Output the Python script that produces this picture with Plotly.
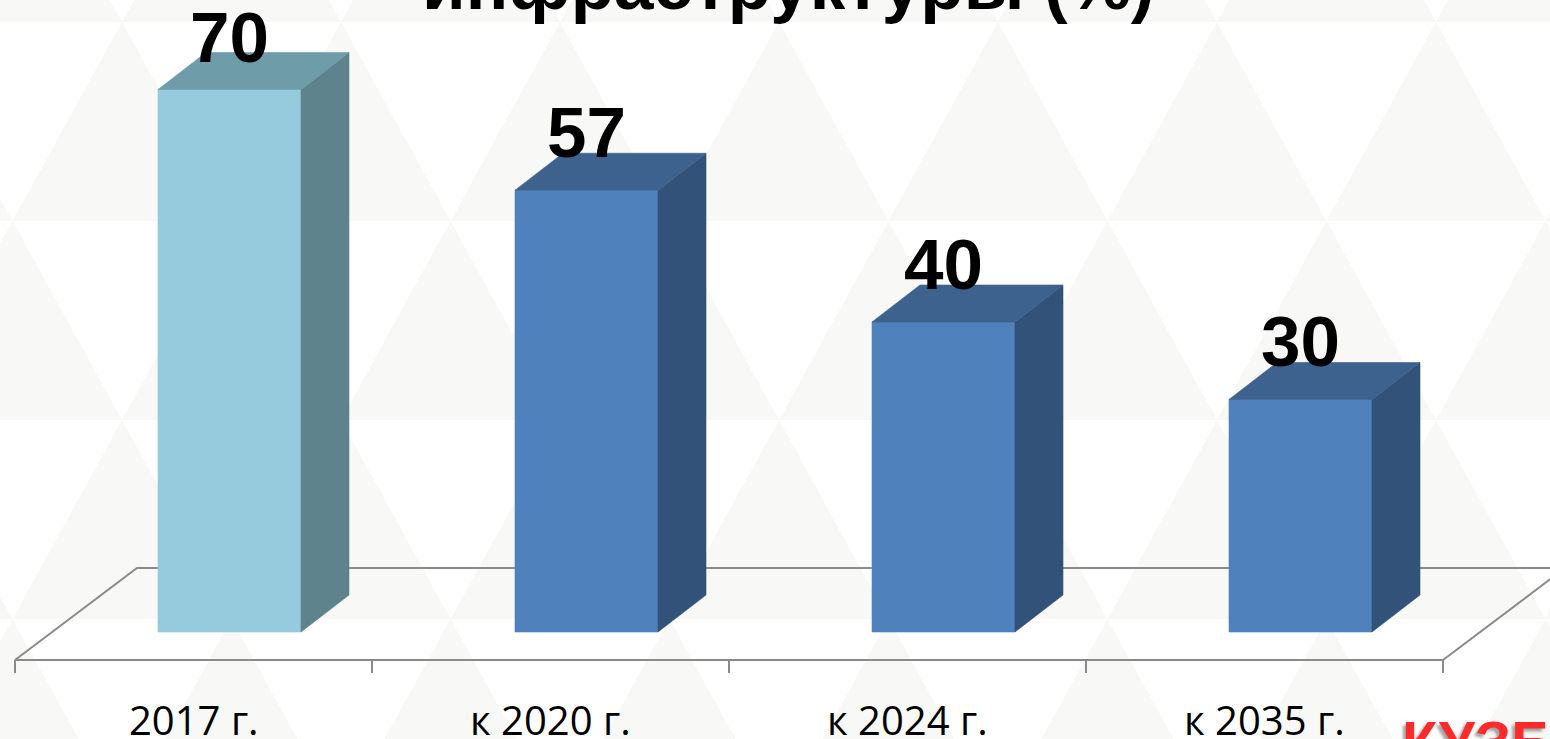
import plotly.graph_objects as go

# ---- data -------------------------------------------------------------
categories = ["2017 г.", "к 2020 г.", "к 2024 г.", "к 2035 г."]
values = [70, 57, 40, 30]
front_colors = ["#95CBDD", "#4F81BD", "#4F81BD", "#4F81BD"]
side_colors = ["#5E838C", "#33527A", "#33527A", "#33527A"]
top_colors = ["#6F9CA9", "#3D628D", "#3D628D", "#3D628D"]
title_text = "инфраструктуры (%)"
brand_text = "КУЗБАСС"

# ---- frame geometry (pixels of the 1550x739 canvas) -------------------
W, H = 1550, 739
SLOT_PX = 357.0      # width of one category slot
X0_PX = 15.0         # left edge of the first slot
BASE_PX = 632.0      # baseline of the bar fronts
UNIT_PX = 7.75       # pixels per percent


def px_to_x(px):
    return (px - X0_PX) / SLOT_PX


def px_to_y(py):
    return (BASE_PX - py) / UNIT_PX


X_RANGE = [px_to_x(0), px_to_x(W)]
Y_RANGE = [px_to_y(H), px_to_y(0)]

BAR_L, BAR_R = 143 / SLOT_PX, 286 / SLOT_PX   # front face inside its slot
DX, DY = 48 / SLOT_PX, 37 / UNIT_PX           # 3D depth of a bar
FLOOR_FRONT = -28 / UNIT_PX
FLOOR_BACK = 64 / UNIT_PX
FLOOR_DX = 122 / SLOT_PX
TICK_LEN = 13 / UNIT_PX
LABEL_GAP = 58 / UNIT_PX
LABEL_MAX = px_to_y(37)

fig = go.Figure()

# ---- floor of the 3D plot --------------------------------------------
n = len(categories)
axis_col = "#8A8A8A"
fig.add_trace(go.Scatter(
    x=[0, FLOOR_DX, n + FLOOR_DX + 0.5],
    y=[FLOOR_FRONT, FLOOR_BACK, FLOOR_BACK],
    mode="lines", line=dict(color=axis_col, width=2), hoverinfo="skip"))
fig.add_trace(go.Scatter(
    x=[n, n + FLOOR_DX],
    y=[FLOOR_FRONT, FLOOR_BACK],
    mode="lines", line=dict(color=axis_col, width=2), hoverinfo="skip"))
fx, fy = [0, n], [FLOOR_FRONT, FLOOR_FRONT]
for k in range(n + 1):
    fx += [None, k, k]
    fy += [None, FLOOR_FRONT, FLOOR_FRONT - TICK_LEN]
fig.add_trace(go.Scatter(x=fx, y=fy, mode="lines",
                         line=dict(color=axis_col, width=2), hoverinfo="skip"))

# ---- 3D bars -----------------------------------------------------------
for i, v in enumerate(values):
    xl, xr = i + BAR_L, i + BAR_R
    faces = [
        ([xl, xr, xr, xl, xl], [0, 0, v, v, 0], front_colors[i]),
        ([xr, xr + DX, xr + DX, xr, xr], [0, DY, v + DY, v, 0], side_colors[i]),
        ([xl, xr, xr + DX, xl + DX, xl], [v, v, v + DY, v + DY, v], top_colors[i]),
    ]
    for xs, ys, col in faces:
        fig.add_trace(go.Scatter(
            x=xs, y=ys, mode="lines", fill="toself", fillcolor=col,
            line=dict(color=col, width=0.6), hoverinfo="skip"))
    fig.add_annotation(
        x=(xl + xr) / 2, y=min(v + LABEL_GAP, LABEL_MAX), text=str(v),
        showarrow=False, xanchor="center", yanchor="middle",
        font=dict(family="Liberation Sans", size=71, color="#000000",
                  weight="bold"))
    fig.add_annotation(
        x=i + 0.5, y=px_to_y(719), text=categories[i],
        showarrow=False, xanchor="center", yanchor="middle",
        font=dict(family="Open Sans", size=40, color="#000000"))

# ---- title (its last line, running off the top edge) --------------------
fig.add_annotation(
    xref="paper", yref="paper", x=788 / W, y=1 + 15 / H, text=title_text,
    showarrow=False, xanchor="center", yanchor="middle",
    font=dict(family="Liberation Sans", size=71, color="#000000", weight="bold"))

# ---- brand mark, bottom right ------------------------------------------
fig.add_annotation(
    xref="paper", yref="paper", x=1400 / W, y=1 - 741 / H,
    text=brand_text, showarrow=False, xanchor="left", yanchor="middle",
    font=dict(family="Liberation Sans", size=58, color="#FF2B2B", weight="bold",
              shadow="-3px 3px 3px rgba(90,90,90,0.55)"))

# ---- faint triangle lattice in the background ---------------------------
S, ROW_H, Y0, OFF = 219.0, 199.0, 22.0, 122.0
path = ""
for r in range(-1, 5):
    y_top = Y0 + r * ROW_H
    y_bot = y_top + ROW_H
    off = OFF + (r % 2) * S / 2
    for j in range(-2, 10):
        ax = off + j * S
        pts = [(ax, y_top), (ax - S / 2, y_bot), (ax + S / 2, y_bot)]
        path += "M" + " L".join(f"{px / W:.5f},{1 - py / H:.5f}" for px, py in pts) + " Z "
fig.add_shape(type="path", path=path, xref="paper", yref="paper",
              fillcolor="#F8F8F6", line=dict(width=0), layer="below")

fig.update_layout(
    width=W, height=H, margin=dict(l=0, r=0, t=0, b=0),
    paper_bgcolor="#FFFFFF", plot_bgcolor="rgba(0,0,0,0)",
    showlegend=False,
    xaxis=dict(range=X_RANGE, visible=False, fixedrange=True),
    yaxis=dict(range=Y_RANGE, visible=False, fixedrange=True),
)

fig.write_html("out.html", config={"displayModeBar": False})
